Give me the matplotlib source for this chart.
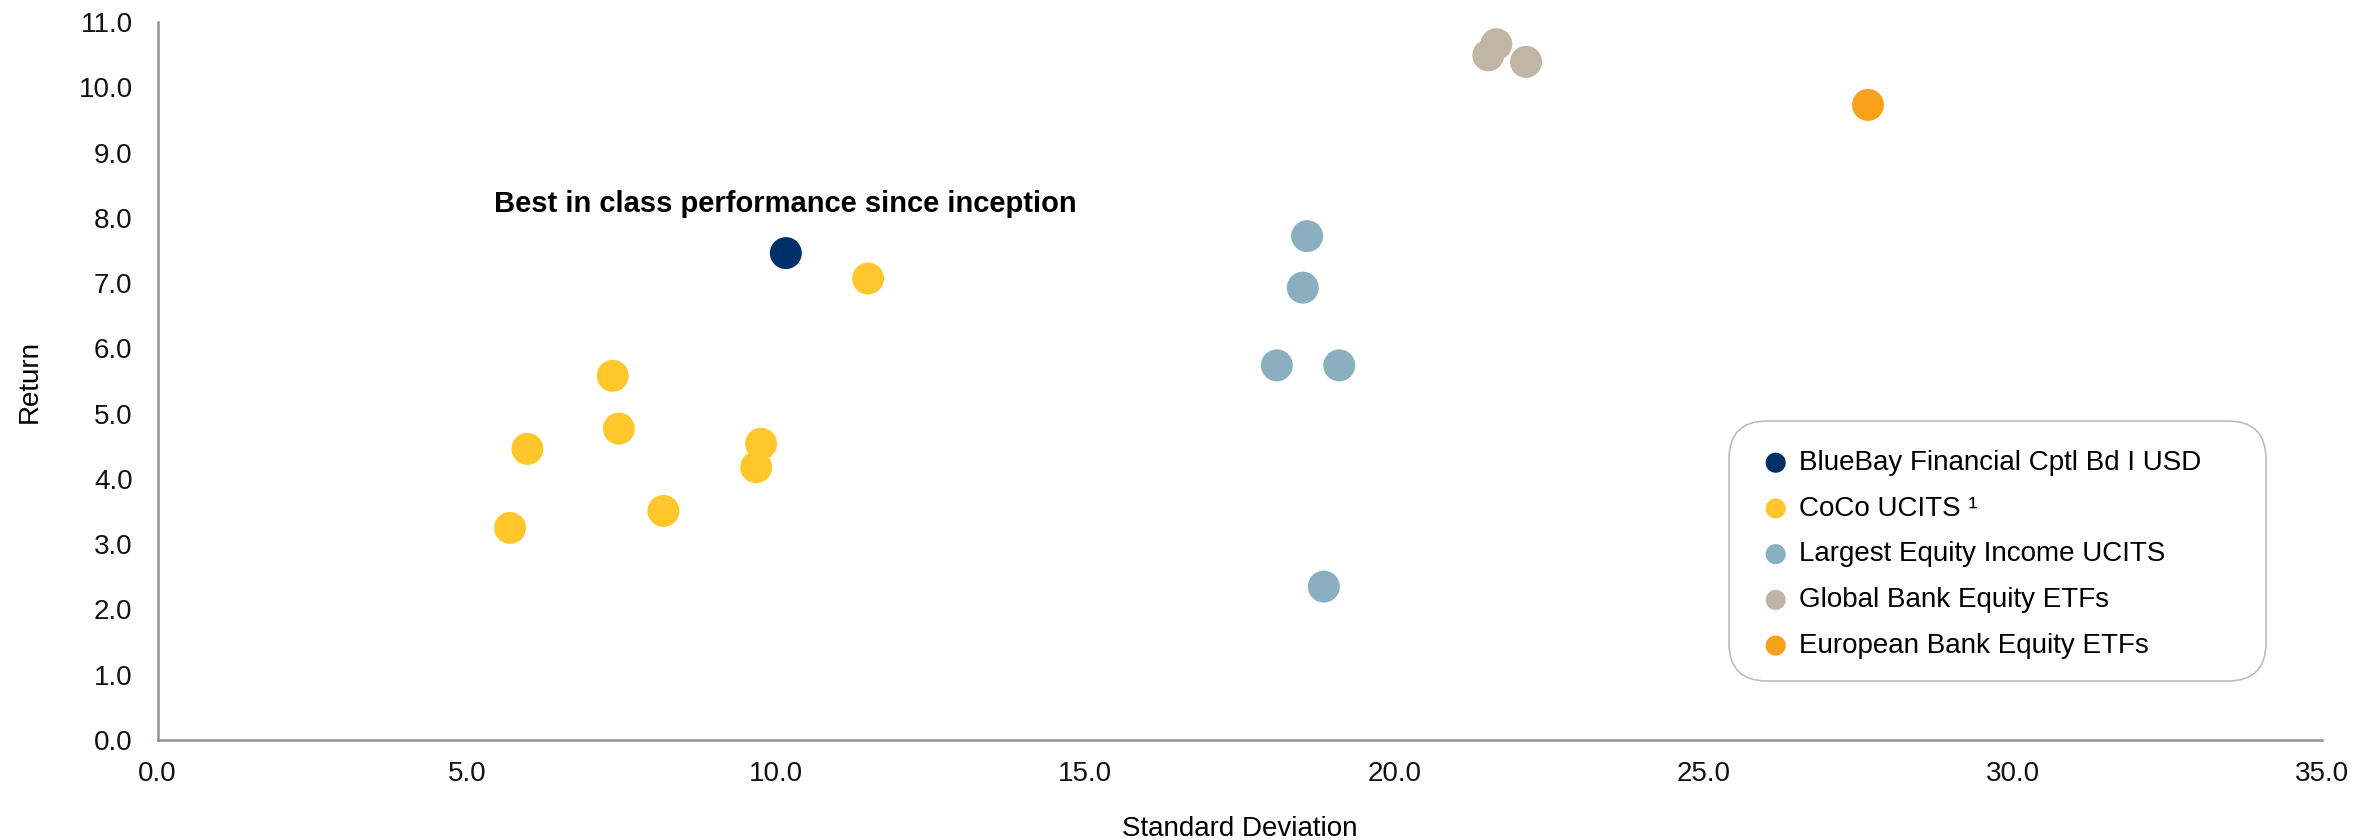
import matplotlib.pyplot as plt
from matplotlib.patches import FancyBboxPatch
from matplotlib.transforms import IdentityTransform
from matplotlib.ticker import MultipleLocator, FormatStrFormatter

plt.rcParams['font.family'] = ['Liberation Sans', 'DejaVu Sans']

# standard deviation / return per group
bluebay_sd = [10.16]
bluebay_ret = [7.46]

coco_sd = [11.49, 7.36, 7.46, 5.98, 9.76, 9.68, 8.18, 5.70]
coco_ret = [7.07, 5.58, 4.77, 4.46, 4.54, 4.18, 3.51, 3.25]

eq_income_sd = [18.59, 18.52, 18.10, 19.11, 18.86]
eq_income_ret = [7.72, 6.93, 5.74, 5.74, 2.35]

global_bank_sd = [21.65, 21.52, 22.13]
global_bank_ret = [10.66, 10.49, 10.39]

euro_bank_sd = [27.66]
euro_bank_ret = [9.73]

series = [
    ("BlueBay Financial Cptl Bd I USD", bluebay_sd, bluebay_ret, "#00306a"),
    ("CoCo UCITS \u00b9", coco_sd, coco_ret, "#ffc72c"),
    ("Largest Equity Income UCITS", eq_income_sd, eq_income_ret, "#8aafc0"),
    ("Global Bank Equity ETFs", global_bank_sd, global_bank_ret, "#c1b5a5"),
    ("European Bank Equity ETFs", euro_bank_sd, euro_bank_ret, "#f7a11a"),
]

W, H = 2377, 840
fig = plt.figure(figsize=(W / 100, H / 100), dpi=100)
ax = fig.add_axes([0.0663, 0.119, 0.9105, 0.8548])

for name, xs, ys, col in series:
    ax.scatter(xs, ys, s=530, color=col, edgecolors='none', label=name, zorder=3)

ax.set_xlim(0, 35)
ax.set_ylim(0, 11)
ax.xaxis.set_major_locator(MultipleLocator(5))
ax.yaxis.set_major_locator(MultipleLocator(1))
ax.xaxis.set_major_formatter(FormatStrFormatter('%.1f'))
ax.yaxis.set_major_formatter(FormatStrFormatter('%.1f'))
ax.tick_params(length=0, labelsize=20, colors='#111111')
ax.tick_params(axis='y', pad=18)
ax.tick_params(axis='x', pad=15)

for s in ['top', 'right']:
    ax.spines[s].set_visible(False)
for s in ['left', 'bottom']:
    ax.spines[s].set_color('#8a939c')
    ax.spines[s].set_linewidth(1.8)

ax.set_xlabel("Standard Deviation", fontsize=20, labelpad=21)
ax.set_ylabel("Return", fontsize=20, labelpad=26)

ax.text(5.44, 8.09, "Best in class performance since inception", fontsize=21,
        fontweight='bold', va='baseline', ha='left')

# rounded legend box in pixel units (figure saved at its own dpi)
box = FancyBboxPatch((1729, H - 681), 537, 260,
                     boxstyle='round,pad=0,rounding_size=38',
                     transform=IdentityTransform(), facecolor='white',
                     edgecolor='#bdbdbd', linewidth=1.2, zorder=4, clip_on=False)
ax.add_artist(box)

leg = ax.legend(loc='upper left', bbox_to_anchor=(1759 / W, 1 - 450 / H),
                bbox_transform=fig.transFigure, fontsize=20,
                frameon=False, markerscale=0.63, handletextpad=0.25,
                handlelength=1.2, labelspacing=0.71, borderpad=0,
                borderaxespad=0)
leg.set_zorder(5)

fig.savefig('out.png', dpi=100)
